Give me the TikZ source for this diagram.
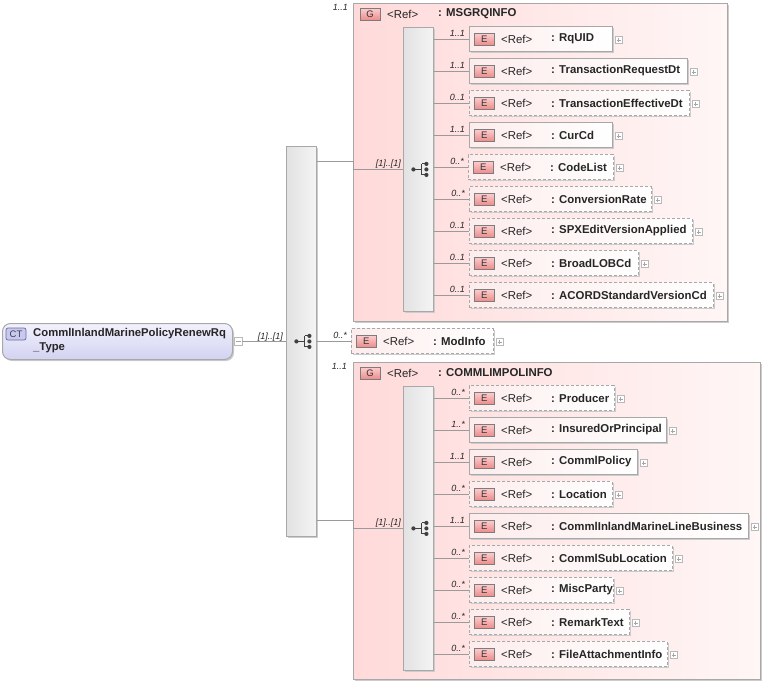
\documentclass[tikz,border=0pt]{standalone}
\usepackage{fontspec}
\setmainfont{Liberation Sans}
\usetikzlibrary{shadows}
\definecolor{grpL}{HTML}{FFDADA}
\definecolor{grpR}{HTML}{FFF6F6}
\definecolor{elL}{HTML}{FDECEC}
\definecolor{bord}{HTML}{A8A8A8}
\definecolor{conncol}{HTML}{9A9A9A}
\definecolor{txt}{HTML}{262626}
\definecolor{badgeT}{HTML}{FCCFCF}
\definecolor{badgeB}{HTML}{EE8C8C}
\definecolor{badgeD}{HTML}{7C7C7C}
\definecolor{ctT}{HTML}{F2F2FD}
\definecolor{ctB}{HTML}{D2D2F2}
\definecolor{ctbadge}{HTML}{C8C8F0}
\definecolor{ctbord}{HTML}{6C6CA0}
\definecolor{seqL}{HTML}{E2E2E2}
\definecolor{seqR}{HTML}{F4F4F4}
\definecolor{icon}{HTML}{404040}
\newcommand\fsz[1]{\fontsize{#1}{#1}\selectfont}
\tikzset{
 shadowed/.style={drop shadow={shadow xshift=1.5pt, shadow yshift=-1.5pt, opacity=1, fill=black!20}},
 grp/.style={draw=bord, line width=1pt, left color=grpL, right color=grpR, anchor=north west, inner sep=0, shadowed},
 seqbox/.style={draw=bord, line width=0.8pt, left color=seqL, right color=seqR, anchor=north west, inner sep=0, minimum width=30, shadowed},
 elem/.style={draw=bord, line width=0.9pt, left color=elL, right color=white, minimum height=25, anchor=west, inner sep=0, shadowed},
 elemopt/.style={elem, dash pattern=on 3pt off 2pt},
 ctnode/.style={draw=bord, line width=1pt, rounded corners=8pt, top color=ctT, bottom color=ctB, anchor=north west, inner sep=0, shadowed},
 ctbadgest/.style={draw=ctbord, fill=ctbadge, rounded corners=2pt, line width=.7pt, minimum width=20, minimum height=12, inner sep=0, font=\fsz{9.5}, text=black!75},
 ebadge/.style={draw=badgeD, top color=badgeT, bottom color=badgeB, line width=.7pt, minimum width=20, minimum height=12, inner sep=0, font=\fsz{9.5}, text=black!80},
 reftxt/.style={inner sep=0, font=\fsz{11.4}, text=txt},
 nametxt/.style={inner sep=0, font=\fsz{11.4}\bfseries, text=txt},
 multtxt/.style={inner sep=0, font=\fsz{9}\itshape, text=txt},
 conn/.style={draw=conncol, line width=0.8pt},
 plusbox/.style={draw=gray!55, fill=white, minimum size=7, inner sep=0, line width=.6pt,
   path picture={\draw[gray!70, line width=.6pt] ([xshift=1.5pt]path picture bounding box.west) -- ([xshift=-1.5pt]path picture bounding box.east) ([yshift=-1.5pt]path picture bounding box.north) -- ([yshift=1.5pt]path picture bounding box.south);}},
 minusbox/.style={draw=gray!55, fill=white, minimum size=8, inner sep=0, line width=.6pt,
   path picture={\draw[gray!70, line width=.6pt] ([xshift=1.5pt]path picture bounding box.west) -- ([xshift=-1.5pt]path picture bounding box.east);}},
 seqicon/.pic={
   \draw[icon, line width=0.9pt] (-5,0) -- (3.5,0) (3.5,-5.5) -- (3.5,5.5) (3.5,-5.5) -- (8,-5.5) (3.5,5.5) -- (8,5.5);
   \fill[icon] (-5,0) circle (2.1pt) (8,-5.5) circle (2.1pt) (8,0) circle (2.1pt) (8,5.5) circle (2.1pt);
 }
}
% #1 id, #2 compositor, #3 x, #4 y, #5 width, #6 style, #7 multiplicity, #8 name
\newcommand\xelem[8]{%
 \node[#6, minimum width=#5] (#1) at (#3,#4) {};
 \node[ebadge, anchor=west] (#1-e) at ([xshift=5pt]#1.west) {E};
 \node[reftxt, anchor=west] (#1-r) at ([xshift=32pt]#1.west) {<Ref>};
 \node[nametxt, anchor=west] (#1-n) at ([xshift=82pt]#1.west) {: #8};
 \node[plusbox, anchor=west] (#1-p) at ([xshift=2pt,yshift=-1pt]#1.east) {};
 \node[multtxt, anchor=base east] (#1-m) at ([xshift=-4pt,yshift=3pt]#1.west) {#7};
 \draw[conn] (#2.east |- #1.west) -- (#1.west);
}
\begin{document}
\begin{tikzpicture}[x=1pt,y=-1pt]
\useasboundingbox (0,0) rectangle (768,686);
% complex type
\node[ctnode, minimum width=230, minimum height=36] (ct) at (2,323) {};
\node[ctbadgest] (ctb) at (16,334) {CT};
\node[nametxt, anchor=north west, align=left, font=\fontsize{11.3}{14}\selectfont\bfseries] (ctname) at (33,328.5) {CommlInlandMarinePolicyRenewRq\\\_Type};
\node[minusbox] (ctm) at (238,341) {};
% main sequence
\node[seqbox, minimum height=390] (mseq) at (286,146) {};
\pic at (mseq.center) {seqicon};
\draw[conn] (ctm.east) -- (mseq.west |- ctm.east);
\node[multtxt, anchor=base east] (ctmult) at (283,339) {[1]..[1]};
% top group
\node[grp, minimum width=374, minimum height=318] (g1) at (353,3) {};
\node[ebadge] (g1b) at (370,14) {G};
\node[reftxt, anchor=west] (g1r) at (387,14) {<Ref>};
\node[nametxt, anchor=west] (g1n) at (438,14) {: MSGRQINFO};
\node[multtxt, anchor=base east] (g1m) at (348,10) {1..1};
\node[seqbox, minimum height=284] (s1) at (403,27) {};
\pic at (s1.center) {seqicon};
\coordinate (g1in) at (353,161);
\draw[conn] (mseq.east |- g1in) -- (g1in) -- (g1in |- s1.west) -- (s1.west);
\node[multtxt, anchor=base east] (g1c) at (401,166) {[1]..[1]};
\xelem{e1}{s1}{469}{39}{143}{elem}{1..1}{RqUID}
\xelem{e2}{s1}{469}{71}{218}{elem}{1..1}{TransactionRequestDt}
\xelem{e3}{s1}{469}{103}{220}{elemopt}{0..1}{TransactionEffectiveDt}
\xelem{e4}{s1}{469}{135}{143}{elem}{1..1}{CurCd}
\xelem{e5}{s1}{468}{167}{145}{elemopt}{0..*}{CodeList}
\xelem{e6}{s1}{469}{199}{182}{elemopt}{0..*}{ConversionRate}
\xelem{e7}{s1}{469}{231}{223}{elemopt}{0..1}{SPXEditVersionApplied}
\xelem{e8}{s1}{469}{263}{169}{elemopt}{0..1}{BroadLOBCd}
\xelem{e9}{s1}{469}{295}{244}{elemopt}{0..1}{ACORDStandardVersionCd}
% ModInfo
\xelem{modinfo}{mseq}{351}{341}{142}{elemopt}{0..*}{ModInfo}
% bottom group
\node[grp, minimum width=407, minimum height=317] (g2) at (353,362) {};
\node[ebadge] (g2b) at (370,373) {G};
\node[reftxt, anchor=west] (g2r) at (387,373) {<Ref>};
\node[nametxt, anchor=west] (g2n) at (438,373) {: COMMLIMPOLINFO};
\node[multtxt, anchor=base east] (g2m) at (347,369) {1..1};
\node[seqbox, minimum height=284] (s2) at (403,386) {};
\pic at (s2.center) {seqicon};
\coordinate (g2in) at (353,520);
\draw[conn] (mseq.east |- g2in) -- (g2in) -- (g2in |- s2.west) -- (s2.west);
\node[multtxt, anchor=base east] (g2c) at (401,525) {[1]..[1]};
\xelem{f1}{s2}{469}{398}{145}{elemopt}{0..*}{Producer}
\xelem{f2}{s2}{469}{430}{197}{elem}{1..*}{InsuredOrPrincipal}
\xelem{f3}{s2}{469}{462}{168}{elem}{1..1}{CommlPolicy}
\xelem{f4}{s2}{469}{494}{143}{elemopt}{0..*}{Location}
\xelem{f5}{s2}{469}{526}{279}{elem}{1..1}{CommlInlandMarineLineBusiness}
\xelem{f6}{s2}{469}{558}{203}{elemopt}{0..*}{CommlSubLocation}
\xelem{f7}{s2}{469}{590}{144}{elemopt}{0..*}{MiscParty}
\xelem{f8}{s2}{469}{622}{160}{elemopt}{0..*}{RemarkText}
\xelem{f9}{s2}{469}{654}{198}{elemopt}{0..*}{FileAttachmentInfo}
\end{tikzpicture}
\end{document}
